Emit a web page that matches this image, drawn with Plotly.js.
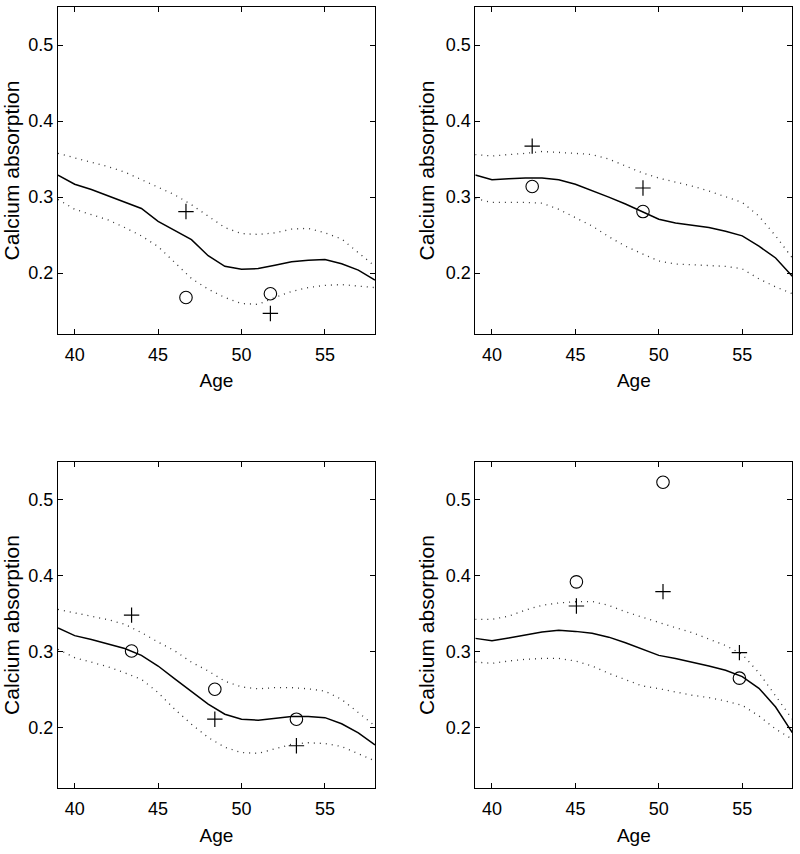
<!DOCTYPE html>
<html>
<head>
<meta charset="utf-8">
<script src="https://cdn.plot.ly/plotly-3.0.1.min.js"></script>
<style>html,body{margin:0;padding:0;background:#fff;}#chart{width:800px;height:854px;}</style>
</head>
<body>
<div id="chart"></div>
<script>
const ages = [39,40,41,42,43,44,45,46,47,48,49,50,51,52,53,54,55,56,57,58];

// Panel 1 (top-left)
const mean1  = [0.329,0.317,0.310,0.302,0.294,0.285,0.268,0.256,0.244,0.223,0.209,0.205,0.206,0.2105,0.215,0.217,0.218,0.2124,0.204,0.191];
const upper1 = [0.3575,0.352,0.346,0.340,0.333,0.323,0.313,0.303,0.290,0.275,0.260,0.252,0.251,0.253,0.258,0.259,0.253,0.245,0.227,0.209];
const lower1 = [0.297,0.284,0.277,0.270,0.260,0.249,0.235,0.214,0.193,0.179,0.168,0.160,0.159,0.168,0.176,0.181,0.184,0.185,0.183,0.181];
const circX1 = [46.67,51.73], circY1 = [0.168,0.173];
const plusX1 = [46.67,51.73], plusY1 = [0.281,0.147];

// Panel 2 (top-right)
const mean2  = [0.329,0.323,0.324,0.325,0.325,0.3228,0.317,0.309,0.300,0.291,0.281,0.271,0.266,0.263,0.260,0.255,0.249,0.2355,0.220,0.196];
const upper2 = [0.356,0.354,0.356,0.3575,0.360,0.359,0.3575,0.356,0.350,0.341,0.332,0.325,0.320,0.3145,0.308,0.301,0.293,0.275,0.249,0.220];
const lower2 = [0.298,0.293,0.293,0.293,0.292,0.284,0.273,0.262,0.248,0.2355,0.2255,0.216,0.212,0.2114,0.210,0.209,0.2057,0.1925,0.182,0.173];
const circX2 = [42.41,49.05], circY2 = [0.314,0.281];
const plusX2 = [42.41,49.05], plusY2 = [0.367,0.312];

// Panel 3 (bottom-left)
const mean3  = [0.331,0.321,0.316,0.310,0.304,0.295,0.281,0.264,0.247,0.2307,0.2175,0.211,0.2096,0.212,0.2145,0.2145,0.213,0.205,0.193,0.177];
const upper3 = [0.3555,0.351,0.346,0.342,0.336,0.325,0.3125,0.301,0.286,0.2745,0.261,0.2534,0.251,0.2525,0.2525,0.251,0.248,0.237,0.2197,0.202];
const lower3 = [0.303,0.292,0.286,0.280,0.272,0.2635,0.246,0.224,0.2044,0.187,0.174,0.167,0.166,0.1724,0.178,0.180,0.179,0.175,0.165,0.156];
const circX3 = [43.41,48.40,53.29], circY3 = [0.3007,0.2504,0.211];
const plusX3 = [43.41,48.40,53.29], plusY3 = [0.348,0.211,0.176];

// Panel 4 (bottom-right)
const mean4  = [0.3174,0.3143,0.318,0.3218,0.3257,0.328,0.3266,0.324,0.319,0.3117,0.3038,0.295,0.291,0.2863,0.281,0.2753,0.267,0.2517,0.227,0.1934];
const upper4 = [0.3424,0.3424,0.3467,0.3546,0.361,0.364,0.3656,0.366,0.3607,0.3524,0.3454,0.338,0.3314,0.325,0.317,0.308,0.2964,0.272,0.2416,0.211];
const lower4 = [0.2863,0.2845,0.2876,0.2898,0.291,0.291,0.2876,0.281,0.2714,0.2626,0.2548,0.2512,0.247,0.2425,0.2394,0.235,0.2293,0.2153,0.198,0.1847];
const circX4 = [45.06,50.25,54.83], circY4 = [0.3918,0.523,0.265];
const plusX4 = [45.06,50.25,54.83], plusY4 = [0.360,0.379,0.2986];

const xTicks = [40,45,50,55];
const yTicks = [0.2,0.3,0.4,0.5];
const xLabel = 'Age';
const yLabel = 'Calcium absorption';

const panels = [
  {mean:mean1, upper:upper1, lower:lower1, cx:circX1, cy:circY1, px:plusX1, py:plusY1},
  {mean:mean2, upper:upper2, lower:lower2, cx:circX2, cy:circY2, px:plusX2, py:plusY2},
  {mean:mean3, upper:upper3, lower:lower3, cx:circX3, cy:circY3, px:plusX3, py:plusY3},
  {mean:mean4, upper:upper4, lower:lower4, cx:circX4, cy:circY4, px:plusX4, py:plusY4}
];

const W = 800, H = 854;
const xDomPx = [[58,375],[475.3,792.3],[58,375],[475.3,792.3]];
const yDomPx = [[7,334],[7,334],[461.7,788.3],[461.7,788.3]];

const traces = [];
const layout = {
  width: W, height: H,
  margin: {l:0, r:0, t:0, b:0},
  paper_bgcolor: '#fff', plot_bgcolor: '#fff',
  showlegend: false,
  font: {family: 'Liberation Sans, Arial, sans-serif', color: '#000'}
};

panels.forEach((p, i) => {
  const n = i + 1;
  const xa = n === 1 ? 'x' : 'x' + n;
  const ya = n === 1 ? 'y' : 'y' + n;
  const dotted = {color: '#333', width: 1.3, dash: '1px,5px'};
  traces.push({x: ages, y: p.upper, xaxis: xa, yaxis: ya, mode: 'lines', line: dotted, hoverinfo: 'skip'});
  traces.push({x: ages, y: p.lower, xaxis: xa, yaxis: ya, mode: 'lines', line: dotted, hoverinfo: 'skip'});
  traces.push({x: ages, y: p.mean, xaxis: xa, yaxis: ya, mode: 'lines', line: {color: '#000', width: 1.5}});
  traces.push({x: p.cx, y: p.cy, xaxis: xa, yaxis: ya, mode: 'markers',
    marker: {symbol: 'circle-open', size: 12.5, color: '#000', line: {width: 1.1, color: '#000'}}});
  traces.push({x: p.px, y: p.py, xaxis: xa, yaxis: ya, mode: 'markers',
    marker: {symbol: 'cross-thin-open', size: 11, color: '#000', line: {width: 1.2, color: '#000'}}});

  const common = {
    showline: true, mirror: 'ticks', linecolor: '#000', linewidth: 1,
    ticks: 'inside', ticklen: 5, tickcolor: '#000', tickwidth: 1,
    showgrid: false, zeroline: false,
    tickfont: {size: 18, family: 'Liberation Sans, Arial, sans-serif', color: '#000'}
  };
  const xd = xDomPx[i], yd = yDomPx[i];
  layout['xaxis' + (n === 1 ? '' : n)] = Object.assign({}, common, {
    anchor: ya, domain: [xd[0] / W, xd[1] / W], range: [39, 58],
    tickvals: xTicks, ticktext: xTicks.map(String), ticklabelstandoff: 4,
    title: {text: xLabel, font: {size: 19, color: '#000'}, standoff: 10}
  });
  layout['yaxis' + (n === 1 ? '' : n)] = Object.assign({}, common, {
    anchor: xa, domain: [1 - yd[1] / H, 1 - yd[0] / H], range: [0.12, 0.55],
    tickvals: yTicks, ticktext: yTicks.map(v => v.toFixed(1)),
    title: {text: yLabel, font: {size: 21, color: '#000'}, standoff: 5}
  });
});

Plotly.newPlot('chart', traces, layout, {staticPlot: true});
</script>
</body>
</html>
